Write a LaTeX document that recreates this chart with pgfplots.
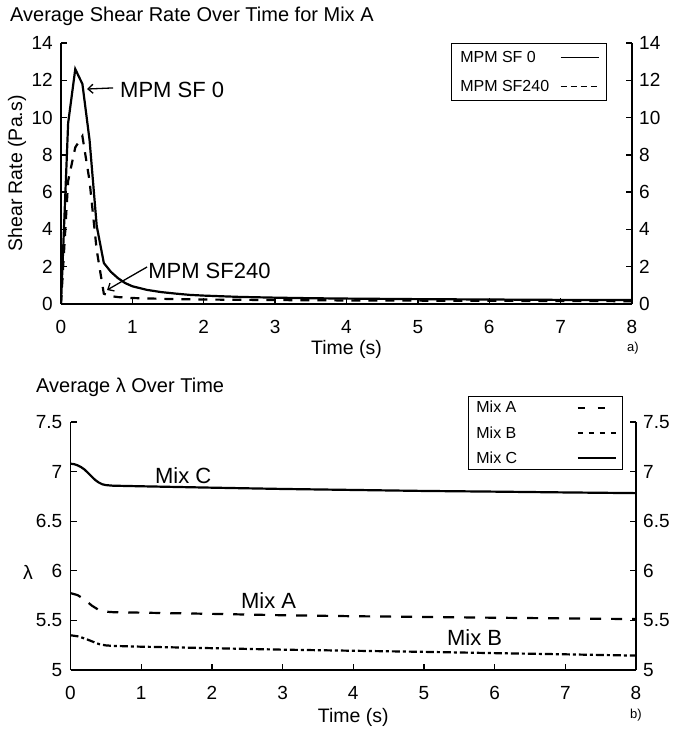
\documentclass[border=0pt]{standalone}
\usepackage{fontspec}
\setmainfont{Liberation Sans}
\usepackage{pgfplots}
\pgfplotsset{compat=1.18}
\usetikzlibrary{arrows.meta}
\tikzset{lblfont/.style={font=\fontsize{19.5bp}{23bp}\selectfont}}
\begin{document}
\begin{tikzpicture}
\pgfplotsset{
  every axis/.append style={
    scale only axis,
    xmin=0, xmax=8,
    xtick={0,1,2,3,4,5,6,7,8},
    tick align=inside,
    major tick length=6bp,
    every tick/.style={black, line width=1.3bp},
    axis line style={line width=1.6bp},
    /pgf/number format/assume math mode=true,
    tick label style={font=\fontsize{19bp}{22bp}\selectfont},
    xticklabel style={inner sep=0pt, anchor=north, yshift=-16bp},
    legend cell align=left,
    legend plot pos=right,
    legend image code/.code={\draw[#1] (0bp,0bp) -- (26bp,0bp); \path (0bp,0bp) -- (38bp,0bp);},
  },
  datal/.style={black, line width=2.2bp},
}
\path[use as bounding box] (0bp,0bp) rectangle (673bp,731bp);

% ---------- top panel ----------
\begin{axis}[
  at={(61bp,427bp)}, anchor=south west,
  width=571bp, height=261bp,
  ymin=0, ymax=14, ytick={0,2,4,6,8,10,12,14},
  axis x line*=bottom, axis y line*=left,
  tick align=inside,
  yticklabel style={inner sep=0pt, anchor=east, xshift=-8bp},
  xlabel={Time (s)}, ylabel={Shear Rate (Pa.s)},
  every axis x label/.style={at={(axis description cs:0.5,-0.176)}, anchor=center, lblfont},
  every axis y label/.style={at={(axis description cs:-0.077,0.5)}, rotate=90, anchor=center, lblfont},
  legend style={at={(axis description cs:0.956,1.0)}, anchor=north east,
    draw=black, line width=0.8bp, inner xsep=7bp, inner ysep=6bp,
    row sep=12bp, column sep=9bp,
    font=\fontsize{16bp}{19bp}\selectfont, nodes={inner sep=2bp}},
]
\addplot[datal, forget plot] coordinates {
(0,0) (0.1,9.7) (0.2,12.6) (0.3,11.8) (0.4,8.8) (0.5,4.2) (0.6,2.2)
(0.7,1.72) (0.8,1.38) (0.9,1.12) (1.0,0.95) (1.2,0.76) (1.4,0.64) (1.6,0.56)
(1.8,0.49) (2.0,0.45) (2.5,0.38) (3,0.34) (3.5,0.31) (4,0.29) (5,0.26)
(6,0.24) (7,0.22) (8,0.21)};
\addplot[datal, dash pattern=on 9bp off 8bp, forget plot] coordinates {
(0,0) (0.1,6.6) (0.2,8.4) (0.3,9.0) (0.4,6.6) (0.5,2.9) (0.6,0.55)
(0.7,0.42) (0.8,0.37) (1.0,0.32) (1.5,0.27) (2,0.24) (3,0.21) (4,0.19)
(5,0.18) (6,0.17) (7,0.16) (8,0.15)};
\addlegendimage{black, line width=1.3bp}
\addlegendentry{MPM SF 0}
\addlegendimage{black, line width=1.3bp, dash pattern=on 6bp off 4bp}
\addlegendentry{MPM SF240}
\draw[black, line width=1.3bp, -{Straight Barb[length=5bp,width=9bp]}] (axis cs:0.729,11.59) -- (axis cs:0.365,11.53);
\draw[black, line width=1.3bp, -{Straight Barb[length=5bp,width=9bp]}] (axis cs:1.206,1.985) -- (axis cs:0.645,0.75);
\node[anchor=base west, inner sep=0pt, font=\fontsize{22bp}{26bp}\selectfont] at (axis cs:0.827,11.1) {MPM SF 0};
\node[anchor=base west, inner sep=0pt, font=\fontsize{22bp}{26bp}\selectfont] at (axis cs:1.22,1.39) {MPM SF240};
\end{axis}
\begin{axis}[
  at={(61bp,427bp)}, anchor=south west,
  width=571bp, height=261bp,
  ymin=0, ymax=14, ytick={0,2,4,6,8,10,12,14},
  axis x line=none, axis y line*=right,
  tick align=inside,
  yticklabel style={inner sep=0pt, anchor=west, xshift=7bp},
]
\end{axis}

% ---------- bottom panel ----------
\begin{axis}[
  at={(70.5bp,61bp)}, anchor=south west,
  width=565.5bp, height=248bp,
  ymin=5, ymax=7.5, ytick={5,5.5,6,6.5,7,7.5},
  axis x line*=bottom, axis y line*=left,
  tick align=inside,
  yticklabel style={inner sep=0pt, anchor=east, xshift=-8bp},
  xlabel={Time (s)}, ylabel={λ},
  every axis x label/.style={at={(axis description cs:0.5,-0.19)}, anchor=center, lblfont},
  every axis y label/.style={at={(axis description cs:-0.075,0.395)}, rotate=0, anchor=center, lblfont},
  legend style={at={(axis description cs:0.977,1.105)}, anchor=north east,
    draw=black, line width=0.8bp, inner xsep=6bp, inner ysep=3bp,
    row sep=8bp, column sep=58bp,
    font=\fontsize{16bp}{19bp}\selectfont, nodes={inner sep=2bp}},
]
\addplot[datal, forget plot] coordinates {
(0,7.08) (0.05,7.075) (0.1,7.063) (0.15,7.045) (0.2,7.02) (0.25,6.985) (0.3,6.95)
(0.35,6.915) (0.4,6.89) (0.45,6.872) (0.5,6.864) (0.6,6.858) (1,6.852) (2,6.838)
(3,6.825) (4,6.815) (5,6.805) (6,6.798) (7,6.79) (8,6.783)};
\addplot[datal, dash pattern=on 11bp off 10bp, forget plot] coordinates {
(0,5.775) (0.1,5.755) (0.2,5.71) (0.3,5.65) (0.4,5.605) (0.5,5.588) (0.6,5.583)
(1,5.578) (2,5.566) (3,5.552) (4,5.542) (5,5.535) (6,5.527) (7,5.52) (8,5.513)};
\addplot[datal, dash pattern=on 8bp off 3bp on 3bp off 3bp, forget plot] coordinates {
(0,5.35) (0.1,5.34) (0.2,5.318) (0.3,5.29) (0.4,5.262) (0.5,5.248) (0.6,5.243)
(1,5.235) (2,5.22) (3,5.205) (4,5.194) (5,5.183) (6,5.17) (7,5.158) (8,5.145)};
\addlegendimage{black, line width=1.3bp, dash pattern=on 7bp off 13bp}
\addlegendentry{Mix A}
\addlegendimage{black, line width=1.3bp, dash pattern=on 5bp off 6bp}
\addlegendentry{Mix B}
\addlegendimage{black, line width=1.3bp}
\addlegendentry{Mix C}
\node[anchor=base west, inner sep=0pt, font=\fontsize{22bp}{26bp}\selectfont] at (axis cs:1.195,6.885) {Mix C};
\node[anchor=base west, inner sep=0pt, font=\fontsize{22bp}{26bp}\selectfont] at (axis cs:2.41,5.625) {Mix A};
\node[anchor=base west, inner sep=0pt, font=\fontsize{22bp}{26bp}\selectfont] at (axis cs:5.325,5.252) {Mix B};
\end{axis}
\begin{axis}[
  at={(70.5bp,61bp)}, anchor=south west,
  width=565.5bp, height=248bp,
  ymin=5, ymax=7.5, ytick={5,5.5,6,6.5,7,7.5},
  axis x line=none, axis y line*=right,
  tick align=inside,
  yticklabel style={inner sep=0pt, anchor=west, xshift=7bp},
]
\end{axis}

% titles and panel tags
\node[anchor=base west, inner sep=0pt, font=\fontsize{20bp}{24bp}\selectfont] at (10bp,709bp) {Average Shear Rate Over Time for Mix A};
\node[anchor=base west, inner sep=0pt, font=\fontsize{20bp}{24bp}\selectfont] at (36bp,338bp) {Average λ Over Time};
\node[anchor=center, inner sep=0pt, font=\fontsize{13bp}{15bp}\selectfont] at (633bp,383bp) {a)};
\node[anchor=center, inner sep=0pt, font=\fontsize{13bp}{15bp}\selectfont] at (636bp,16bp) {b)};
\end{tikzpicture}
\end{document}
